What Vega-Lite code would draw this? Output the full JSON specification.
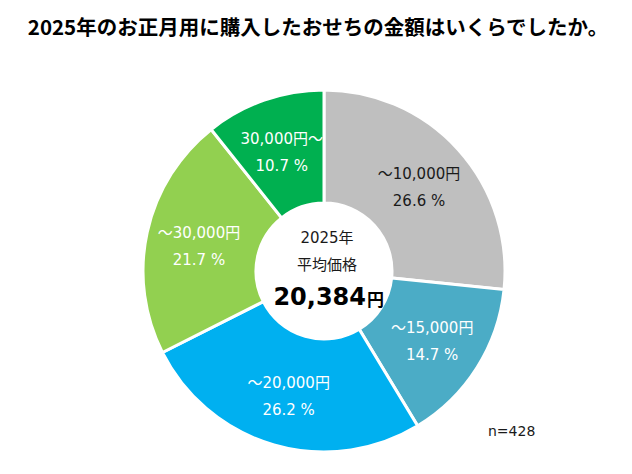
{
  "$schema": "https://vega.github.io/schema/vega-lite/v6.json",
  "width": 648,
  "height": 422,
  "autosize": "none",
  "padding": {"left": 0, "top": 60, "right": 0, "bottom": 0},
  "background": "white",
  "title": {
    "text": "2025年のお正月用に購入したおせちの金額はいくらでしたか。",
    "font": "Noto Sans CJK JP",
    "fontSize": 20.5,
    "fontWeight": "bold",
    "color": "black",
    "anchor": "middle",
    "offset": 21,
    "dx": -6
  },
  "config": {"view": {"stroke": null}},
  "datasets": {
    "bands": [
      {"band": "～10,000円", "pct": 26.6, "pctLabel": "26.6 %", "order": 1},
      {"band": "～15,000円", "pct": 14.7, "pctLabel": "14.7 %", "order": 2},
      {"band": "～20,000円", "pct": 26.2, "pctLabel": "26.2 %", "order": 3},
      {"band": "～30,000円", "pct": 21.7, "pctLabel": "21.7 %", "order": 4},
      {"band": "30,000円～", "pct": 10.7, "pctLabel": "10.7 %", "order": 5}
    ],
    "centre": [
      {"year": "2025年", "caption": "平均価格", "avg": "20,384", "unit": "円", "n": "n=428"}
    ]
  },
  "layer": [
    {
      "data": {"name": "bands"},
      "mark": {"type": "arc", "outerRadius": 181, "innerRadius": 68, "stroke": "white", "strokeWidth": 3},
      "encoding": {
        "theta": {"field": "pct", "type": "quantitative", "stack": true},
        "order": {"field": "order", "type": "quantitative"},
        "color": {
          "field": "band",
          "type": "nominal",
          "legend": null,
          "scale": {
            "domain": ["～10,000円", "～15,000円", "～20,000円", "～30,000円", "30,000円～"],
            "range": ["#bfbfbf", "#4bacc6", "#00b0f0", "#92d050", "#00b050"]
          }
        }
      }
    },
    {
      "data": {"name": "bands"},
      "mark": {"type": "text", "radius": 128, "dy": -11, "font": "DejaVu Sans, Noto Sans CJK JP", "fontSize": 15},
      "encoding": {
        "theta": {"field": "pct", "type": "quantitative", "stack": true},
        "order": {"field": "order", "type": "quantitative"},
        "text": {"field": "band"},
        "color": {"condition": {"test": "datum.order == 1", "value": "#1a1a1a"}, "value": "white"}
      }
    },
    {
      "data": {"name": "bands"},
      "mark": {"type": "text", "radius": 128, "dy": 16, "font": "DejaVu Sans, Noto Sans CJK JP", "fontSize": 15},
      "encoding": {
        "theta": {"field": "pct", "type": "quantitative", "stack": true},
        "order": {"field": "order", "type": "quantitative"},
        "text": {"field": "pctLabel"},
        "color": {"condition": {"test": "datum.order == 1", "value": "#1a1a1a"}, "value": "white"}
      }
    },
    {
      "data": {"name": "centre"},
      "mark": {"type": "text", "dx": 3, "dy": -33, "font": "DejaVu Sans, Noto Sans CJK JP", "fontSize": 15, "color": "#1a1a1a"},
      "encoding": {"text": {"field": "year"}}
    },
    {
      "data": {"name": "centre"},
      "mark": {"type": "text", "dx": 3, "dy": -6, "font": "Noto Sans CJK JP", "fontSize": 15, "color": "#1a1a1a"},
      "encoding": {"text": {"field": "caption"}}
    },
    {
      "data": {"name": "centre"},
      "mark": {"type": "text", "align": "right", "dx": 42, "dy": 27, "font": "DejaVu Sans", "fontSize": 24, "fontWeight": "bold", "color": "black"},
      "encoding": {"text": {"field": "avg"}}
    },
    {
      "data": {"name": "centre"},
      "mark": {"type": "text", "align": "left", "dx": 43, "dy": 30, "font": "Noto Sans CJK JP", "fontSize": 17, "fontWeight": "bold", "color": "black"},
      "encoding": {"text": {"field": "unit"}}
    },
    {
      "data": {"name": "centre"},
      "mark": {"type": "text", "align": "left", "dx": 164, "dy": 161, "font": "DejaVu Sans", "fontSize": 14, "color": "#1a1a1a"},
      "encoding": {"text": {"field": "n"}}
    }
  ]
}
